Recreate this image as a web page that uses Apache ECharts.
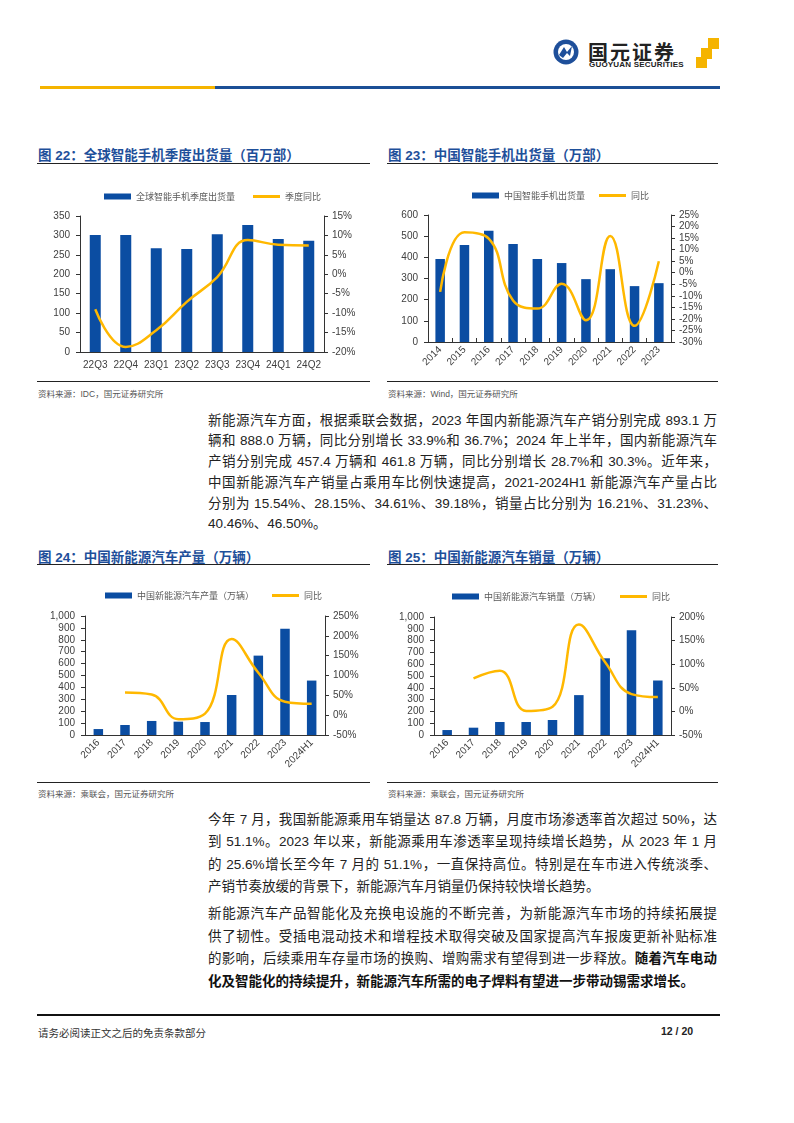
<!DOCTYPE html>
<html>
<head>
<meta charset="utf-8">
<script src="https://cdn.jsdelivr.net/npm/echarts@6/dist/echarts.min.js"></script>
<style>
  html, body { margin:0; padding:0; background:#fff; }
  body { width:794px; height:1123px; position:relative; overflow:hidden;
         font-family:"Liberation Sans","Noto Sans CJK SC",sans-serif; color:#222; }
  .abs { position:absolute; }
  .title { position:absolute; font-size:13.5px; font-weight:bold; color:#1E4F9A; white-space:nowrap; }
  .rule { position:absolute; height:1px; background:#222; }
  .src { position:absolute; font-size:8.5px; color:#555; white-space:nowrap; }
  .chart { position:absolute; width:350px; height:210px; }
  .para { position:absolute; left:208px; width:509px; font-size:13.5px; color:#222; }
  .para div { text-align:justify; text-align-last:justify; white-space:normal; }
  .para div.last { text-align-last:left; }
  b { font-weight:bold; color:#111; }
</style>
</head>
<body>
<!-- header -->
<svg class="abs" style="left:552px;top:38px" width="28" height="28" viewBox="0 0 28 28">
  <circle cx="14" cy="14" r="12.5" fill="#1E4F9A"/>
  <circle cx="14" cy="14" r="8" fill="#fff"/>
  <path d="M7 17 L12 9 L15 14 L20 8 L18 18 L15 15 L11 20 Z" fill="#1E4F9A"/>
</svg>
<div class="abs" style="left:588px;top:37px;font-size:20px;font-weight:bold;color:#222;letter-spacing:2px;white-space:nowrap">国元证券</div>
<div class="abs" style="left:589px;top:60px;font-size:8px;font-weight:bold;color:#222;letter-spacing:0.2px;white-space:nowrap">GUOYUAN SECURITIES</div>
<div class="abs" style="left:708px;top:38px;width:11px;height:11px;background:#F5B400"></div>
<div class="abs" style="left:701px;top:48px;width:11px;height:11px;background:#F5B400"></div>
<div class="abs" style="left:696px;top:57px;width:11px;height:11px;background:#F5B400"></div>
<div class="abs" style="left:40px;top:86px;width:175px;height:3px;background:#F5B400"></div>
<div class="abs" style="left:215px;top:86px;width:505px;height:3px;background:#1B4F96"></div>

<!-- chart titles & rules -->
<div class="title" style="left:38px;top:144px">图 22：全球智能手机季度出货量（百万部）</div>
<div class="rule" style="left:37px;top:163px;width:333px"></div>
<div class="rule" style="left:37px;top:381px;width:333px"></div>
<div class="src" style="left:38px;top:387px">资料来源：IDC，国元证券研究所</div>

<div class="title" style="left:388px;top:144px">图 23：中国智能手机出货量（万部）</div>
<div class="rule" style="left:387px;top:163px;width:331px"></div>
<div class="rule" style="left:387px;top:381px;width:331px"></div>
<div class="src" style="left:388px;top:387px">资料来源：Wind，国元证券研究所</div>

<div class="title" style="left:38px;top:546px">图 24：中国新能源汽车产量（万辆）</div>
<div class="rule" style="left:37px;top:564px;width:333px"></div>
<div class="rule" style="left:37px;top:782px;width:333px"></div>
<div class="src" style="left:38px;top:787px">资料来源：乘联会，国元证券研究所</div>

<div class="title" style="left:388px;top:546px">图 25：中国新能源汽车销量（万辆）</div>
<div class="rule" style="left:387px;top:564px;width:331px"></div>
<div class="rule" style="left:387px;top:782px;width:331px"></div>
<div class="src" style="left:388px;top:787px">资料来源：乘联会，国元证券研究所</div>

<div id="c22" class="chart" style="left:30px;top:170px;width:350px"></div>
<div id="c23" class="chart" style="left:385px;top:170px;width:380px"></div>
<div id="c24" class="chart" style="left:30px;top:572px;width:350px"></div>
<div id="c25" class="chart" style="left:385px;top:572px;width:380px"></div>

<!-- paragraphs -->
<div class="para" style="top:410.5px;line-height:20.8px">
  <div>新能源汽车方面，根据乘联会数据，2023 年国内新能源汽车产销分别完成 893.1 万</div>
  <div>辆和 888.0 万辆，同比分别增长 33.9%和 36.7%；2024 年上半年，国内新能源汽车</div>
  <div>产销分别完成 457.4 万辆和 461.8 万辆，同比分别增长 28.7%和 30.3%。近年来，</div>
  <div>中国新能源汽车产销量占乘用车比例快速提高，2021-2024H1 新能源汽车产量占比</div>
  <div>分别为 15.54%、28.15%、34.61%、39.18%，销量占比分别为 16.21%、31.23%、</div>
  <div class="last">40.46%、46.50%。</div>
</div>
<div class="para" style="top:809px;line-height:22.4px">
  <div>今年 7 月，我国新能源乘用车销量达 87.8 万辆，月度市场渗透率首次超过 50%，达</div>
  <div>到 51.1%。2023 年以来，新能源乘用车渗透率呈现持续增长趋势，从 2023 年 1 月</div>
  <div>的 25.6%增长至今年 7 月的 51.1%，一直保持高位。特别是在车市进入传统淡季、</div>
  <div class="last">产销节奏放缓的背景下，新能源汽车月销量仍保持较快增长趋势。</div>
</div>
<div class="para" style="top:903px;line-height:22.6px">
  <div>新能源汽车产品智能化及充换电设施的不断完善，为新能源汽车市场的持续拓展提</div>
  <div>供了韧性。受插电混动技术和增程技术取得突破及国家提高汽车报废更新补贴标准</div>
  <div>的影响，后续乘用车存量市场的换购、增购需求有望得到进一步释放。<b>随着汽车电动</b></div>
  <div class="last"><b>化及智能化的持续提升，新能源汽车所需的电子焊料有望进一步带动锡需求增长。</b></div>
</div>

<!-- footer -->
<div class="abs" style="left:37px;top:1014px;width:683px;height:2px;background:#111"></div>
<div class="abs" style="left:38px;top:1025px;font-size:10.5px;color:#333;white-space:nowrap">请务必阅读正文之后的免责条款部分</div>
<div class="abs" style="left:661px;top:1025px;font-size:10.5px;font-weight:bold;color:#222;white-space:nowrap">12 / 20</div>

<script>
// ---- data ----
const q_cats = ['22Q3','22Q4','23Q1','23Q2','23Q3','23Q4','24Q1','24Q2'];
const q_ship = [301, 301, 267, 265, 303, 327, 291, 286];
const q_yoy = [-9.0, -18.7, -14.4, -7.1, -0.7, 8.8, 7.6, 7.4];

const cn_years = ['2014','2015','2016','2017','2018','2019','2020','2021','2022','2023'];
const cn_ship = [392, 458, 526, 463, 392, 373, 297, 344, 264, 278];
const cn_yoy = [-8.3, 17.5, 14.8, -12.0, -15.5, -4.8, -20.6, 15.9, -23.0, 5.0];

const nev_years = ['2016','2017','2018','2019','2020','2021','2022','2023','2024H1'];
const nev_prod = [50, 84, 118, 112, 109, 336, 667, 893.1, 457.4];
const nev_prod_yoy = [null, 57, 52, -10, 4, 192, 107, 33.9, 28.7];
const nev_sales = [42, 62, 110, 110, 127, 338, 650, 888.0, 461.8];
const nev_sales_yoy = [null, 70, 86, 1, 10, 184, 104, 36.7, 30.3];

// ---- styles ----
const BAR = '#0B4DA2';
const LINE = '#FFB800';
const AX = '#333';
const LBL = '#404040';
const FONT = '"Liberation Sans","Noto Sans CJK SC",sans-serif';

function build(id, c) {
  const ch = echarts.init(document.getElementById(id));
  const legendText = {fontSize:9, color:'#595959', fontFamily:'"Noto Sans CJK SC",sans-serif'};
  ch.setOption({
    animation:false,
    textStyle:{fontFamily:FONT},
    legend:[
      {data:[c.barName], left:c.lg1, top:c.lgTop, itemWidth:27, itemHeight:6, icon:'rect', textStyle:legendText, itemGap:5},
      {data:[c.lineName], left:c.lg2, top:c.lgTop, itemWidth:27, itemHeight:3, icon:'rect', textStyle:legendText}
    ],
    grid:c.grid,
    xAxis:{
      type:'category', data:c.cats,
      axisLine:{lineStyle:{color:AX, width:1}},
      axisTick:c.xTick ? {show:true, inside:true, length:4, alignWithLabel:false, lineStyle:{color:AX}} : {show:false},
      axisLabel:{color:LBL, fontSize:10, rotate:c.rotate||0, margin:c.xMargin||8, interval:0, fontFamily:FONT}
    },
    yAxis:[
      {type:'value', min:c.l[0], max:c.l[1], interval:c.l[2], splitLine:{show:false},
       axisLine:{show:true, lineStyle:{color:AX}}, axisTick:{show:true, length:4, lineStyle:{color:AX}},
       axisLabel:{color:LBL, fontSize:10, margin:c.lMargin||10, fontFamily:FONT,
         formatter:v => c.thousands ? v.toLocaleString('en-US') : String(v)}},
      {type:'value', min:c.r[0], max:c.r[1], interval:c.r[2], splitLine:{show:false}, position:'right',
       axisLine:{show:true, lineStyle:{color:AX}}, axisTick:{show:true, length:4, lineStyle:{color:AX}},
       axisLabel:{color:LBL, fontSize:10, margin:8, fontFamily:FONT, formatter:v => v + '%'}}
    ],
    series:[
      {name:c.barName, type:'bar', data:c.bars, yAxisIndex:0, barWidth:c.barW,
       itemStyle:{color:BAR}},
      {name:c.lineName, type:'line', data:c.line, yAxisIndex:1, smooth:0.45, symbol:'none',
       lineStyle:{color:LINE, width:2.5}, itemStyle:{color:LINE}, z:5}
    ]
  });
}

build('c22', {
  barName:'全球智能手机季度出货量', lineName:'季度同比', cats:q_cats, bars:q_ship, line:q_yoy,
  lg1:69, lg2:218, lgTop:17,
  grid:{left:50, right:56, top:46, bottom:28},
  l:[0,350,50], r:[-20,15,5], barW:11, xMargin:8
});
build('c23', {
  barName:'中国智能手机出货量', lineName:'同比', cats:cn_years, bars:cn_ship, line:cn_yoy,
  lg1:82, lg2:209, lgTop:16,
  grid:{left:43, right:94, top:45, bottom:38},
  l:[0,600,100], r:[-30,25,5], barW:9.5, rotate:45, xTick:true, xMargin:6
});
build('c24', {
  barName:'中国新能源汽车产量（万辆）', lineName:'同比', cats:nev_years, bars:nev_prod, line:nev_prod_yoy,
  lg1:70, lg2:237, lgTop:14,
  grid:{left:55, right:55, top:44, bottom:47},
  l:[0,1000,100], r:[-50,250,50], barW:9.5, rotate:45, xTick:false, thousands:true, xMargin:6
});
build('c25', {
  barName:'中国新能源汽车销量（万辆）', lineName:'同比', cats:nev_years, bars:nev_sales, line:nev_sales_yoy,
  lg1:62, lg2:230, lgTop:15,
  grid:{left:49, right:94, top:45, bottom:47},
  l:[0,1000,100], r:[-50,200,50], barW:9.5, rotate:45, xTick:false, thousands:true, xMargin:6
});
</script>
</body>
</html>
